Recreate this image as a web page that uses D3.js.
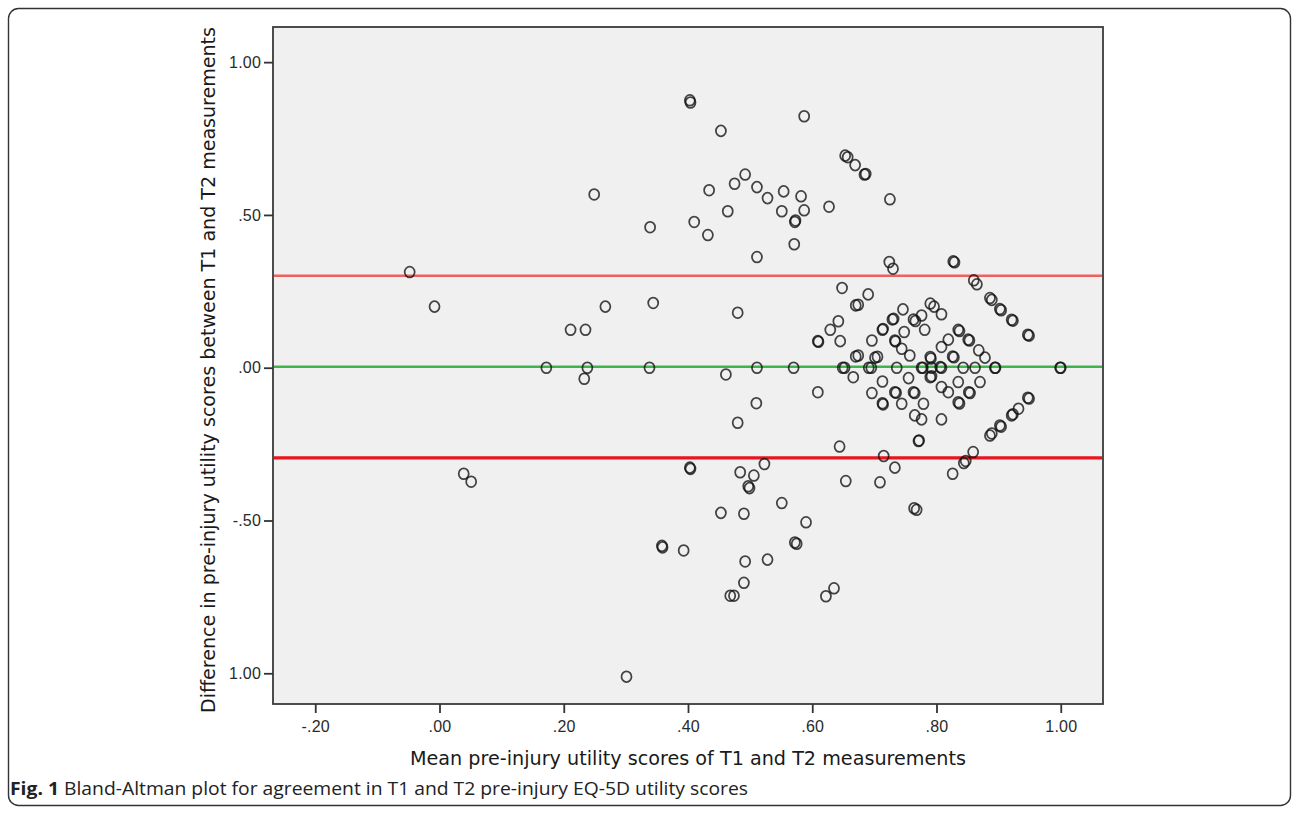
<!DOCTYPE html>
<html>
<head>
<meta charset="utf-8">
<script src="https://cdn.jsdelivr.net/npm/d3@7"></script>
<style>
  body { margin: 0; background: #fff; }
  svg { display: block; }
</style>
</head>
<body>
<svg id="chart" width="1292" height="814"></svg>
<script>
// mean of T1 and T2 (x) and difference T1 - T2 (y)
const meanScores = [
  -0.048, -0.008, 0.039, 0.051, 0.172, 0.211, 0.235, 0.238, 0.233, 0.267, 0.249, 0.301,
  0.339, 0.344, 0.338, 0.358, 0.359, 0.393, 0.403, 0.404, 0.403, 0.404, 0.410, 0.432,
  0.434, 0.453, 0.453, 0.461, 0.464, 0.468, 0.474, 0.475, 0.480, 0.480, 0.484, 0.490,
  0.490, 0.492, 0.492, 0.497, 0.499, 0.506, 0.510, 0.511, 0.511, 0.511, 0.523, 0.528,
  0.528, 0.551, 0.551, 0.554, 0.570, 0.571, 0.572, 0.573, 0.572, 0.575, 0.582, 0.587,
  0.590, 0.587, 0.609, 0.610, 0.609, 0.622, 0.627, 0.629, 0.635, 0.642, 0.644, 0.645,
  0.648, 0.649, 0.652, 0.653, 0.657, 0.654, 0.666, 0.669, 0.670, 0.674, 0.670, 0.674,
  0.684, 0.686, 0.690, 0.691, 0.695, 0.696, 0.696, 0.701, 0.705, 0.709, 0.713, 0.714,
  0.713, 0.713, 0.714, 0.715, 0.725, 0.724, 0.730, 0.729, 0.731, 0.733, 0.734, 0.733,
  0.735, 0.733, 0.736, 0.744, 0.744, 0.746, 0.748, 0.755, 0.757, 0.763, 0.766, 0.763,
  0.765, 0.765, 0.764, 0.768, 0.771, 0.772, 0.776, 0.776, 0.778, 0.776, 0.779, 0.781,
  0.790, 0.796, 0.790, 0.791, 0.792, 0.790, 0.792, 0.808, 0.808, 0.808, 0.806, 0.808,
  0.808, 0.819, 0.819, 0.826, 0.828, 0.826, 0.827, 0.829, 0.835, 0.837, 0.835, 0.835,
  0.837, 0.843, 0.844, 0.847, 0.851, 0.853, 0.852, 0.854, 0.859, 0.860, 0.865, 0.862,
  0.868, 0.870, 0.878, 0.886, 0.889, 0.886, 0.889, 0.894, 0.895, 0.902, 0.904, 0.902,
  0.904, 0.921, 0.923, 0.921, 0.923, 0.932, 0.947, 0.949, 0.947, 0.949, 0.999, 1.000
];
const diffScores = [
  0.313, 0.200, -0.347, -0.373, 0.000, 0.124, 0.124, 0.000, -0.036, 0.200, 0.567, -1.011,
  0.460, 0.212, 0.000, -0.583, -0.588, -0.598, 0.875, 0.868, -0.327, -0.331, 0.477, 0.434,
  0.581, 0.775, -0.475, -0.022, 0.512, -0.746, -0.746, 0.602, 0.180, -0.180, -0.342, -0.478,
  -0.704, 0.632, -0.634, -0.388, -0.394, -0.353, -0.116, 0.591, 0.362, 0.000, -0.315, 0.555,
  -0.628, 0.512, -0.443, 0.577, 0.000, 0.404, 0.477, 0.482, -0.572, -0.576, 0.561, 0.515,
  -0.506, 0.823, 0.087, 0.085, -0.080, -0.748, 0.527, 0.124, -0.722, 0.152, -0.258, 0.087,
  0.261, 0.000, 0.000, 0.694, 0.689, -0.371, -0.031, 0.663, 0.204, 0.206, 0.037, 0.040,
  0.632, 0.634, 0.240, 0.000, 0.000, 0.089, -0.083, 0.033, 0.036, -0.375, 0.124, 0.127,
  -0.045, -0.116, -0.120, -0.289, 0.551, 0.346, 0.324, 0.158, 0.160, 0.089, 0.086, -0.080,
  -0.082, -0.327, 0.000, 0.062, -0.118, 0.191, 0.117, -0.034, 0.040, 0.158, 0.153, -0.080,
  -0.083, -0.156, -0.460, -0.465, -0.240, -0.238, 0.171, 0.000, 0.000, -0.169, -0.118, 0.124,
  0.210, 0.200, 0.035, 0.030, 0.000, -0.031, -0.028, 0.175, 0.068, 0.000, 0.002, -0.063,
  -0.169, 0.092, -0.080, 0.037, 0.034, -0.347, 0.348, 0.345, 0.124, 0.120, -0.047, -0.113,
  -0.117, 0.000, -0.312, -0.305, 0.092, 0.089, -0.080, -0.083, -0.276, 0.286, 0.273, 0.000,
  0.057, -0.047, 0.033, 0.228, 0.222, -0.222, -0.215, 0.000, 0.000, 0.192, 0.188, -0.189,
  -0.193, 0.157, 0.154, -0.156, -0.152, -0.134, 0.108, 0.105, -0.098, -0.101, 0.000, 0.000
];

// mean difference and limits of agreement
const meanDiff = 0.003;
const upperLimit = 0.301;
const lowerLimit = -0.295;

const xTicks = [-0.2, 0, 0.2, 0.4, 0.6, 0.8, 1.0];
const xTickLabels = ["-.20", ".00", ".20", ".40", ".60", ".80", "1.00"];
const yTicks = [1.0, 0.5, 0, -0.5, -1.0];
const yTickLabels = ["1.00", ".50", ".00", "-.50", "1.00"];

const svg = d3.select("#chart");

// outer frame of the figure
svg.append("rect")
  .attr("x", 8.5).attr("y", 8.5)
  .attr("width", 1282).attr("height", 797)
  .attr("rx", 10)
  .attr("fill", "none")
  .attr("stroke", "#333")
  .attr("stroke-width", 1.4);

const plotL = 273, plotR = 1103, plotT = 27, plotB = 704;

const x = d3.scaleLinear().domain([-0.268, 1.068]).range([plotL, plotR]);
const y = d3.scaleLinear().domain([-1.1005, 1.115]).range([plotB, plotT]);

svg.append("rect")
  .attr("x", plotL).attr("y", plotT)
  .attr("width", plotR - plotL).attr("height", plotB - plotT)
  .attr("fill", "#f0f0f0")
  .attr("stroke", "#3a3a3a")
  .attr("stroke-width", 1.8);

// reference lines
const refLines = [
  { v: upperLimit, color: "#f06060", w: 2.4 },
  { v: meanDiff, color: "#3db54a", w: 2.6 },
  { v: lowerLimit, color: "#e8141e", w: 3.2 }
];
svg.selectAll("line.ref")
  .data(refLines)
  .enter().append("line")
  .attr("class", "ref")
  .attr("x1", plotL + 1).attr("x2", plotR - 1)
  .attr("y1", d => y(d.v)).attr("y2", d => y(d.v))
  .attr("stroke", d => d.color)
  .attr("stroke-width", d => d.w);

// points
const points = meanScores.map((m, i) => ({ m, d: diffScores[i] }));
svg.append("g")
  .selectAll("ellipse")
  .data(points)
  .enter().append("ellipse")
  .attr("cx", p => x(p.m))
  .attr("cy", p => y(p.d))
  .attr("rx", 5)
  .attr("ry", 5.4)
  .attr("fill", "none")
  .attr("stroke", "#111")
  .attr("stroke-opacity", 0.78)
  .attr("stroke-width", 1.75);

// axes
const xAxis = svg.append("g")
  .attr("transform", `translate(0,${plotB})`)
  .call(d3.axisBottom(x).tickValues(xTicks).tickFormat((d, i) => xTickLabels[i]).tickSize(9).tickPadding(8));
const yAxis = svg.append("g")
  .attr("transform", `translate(${plotL},0)`)
  .call(d3.axisLeft(y).tickValues(yTicks).tickFormat((d, i) => yTickLabels[i]).tickSize(9).tickPadding(3));

[xAxis, yAxis].forEach(g => {
  g.select(".domain").remove();
  g.selectAll(".tick line").attr("stroke", "#333").attr("stroke-width", 1.8);
  g.selectAll(".tick text")
    .attr("fill", "#2a2a2a")
    .attr("font-family", "Liberation Sans, Arial, sans-serif")
    .attr("font-size", 16)
    .attr("letter-spacing", 0.2);
});

// axis titles
svg.append("text")
  .attr("x", 688).attr("y", 765)
  .attr("text-anchor", "middle")
  .attr("font-family", "DejaVu Sans, Verdana, sans-serif")
  .attr("font-size", 19.5)
  .attr("fill", "#1a1a1a")
  .attr("textLength", 556)
  .attr("lengthAdjust", "spacingAndGlyphs")
  .text("Mean pre-injury utility scores of T1 and T2 measurements");

svg.append("text")
  .attr("transform", "translate(215,370) rotate(-90)")
  .attr("text-anchor", "middle")
  .attr("font-family", "DejaVu Sans, Verdana, sans-serif")
  .attr("font-size", 19.5)
  .attr("fill", "#1a1a1a")
  .attr("textLength", 686)
  .attr("lengthAdjust", "spacingAndGlyphs")
  .text("Difference in pre-injury utility scores between T1 and T2 measurements");

// caption
const cap = svg.append("text")
  .attr("x", 10).attr("y", 795)
  .attr("font-family", "Open Sans, sans-serif")
  .attr("font-size", 18)
  .attr("fill", "#222")
  .attr("textLength", 738)
  .attr("lengthAdjust", "spacingAndGlyphs");
cap.append("tspan").attr("font-weight", "bold").text("Fig. 1");
cap.append("tspan").text(" Bland-Altman plot for agreement in T1 and T2 pre-injury EQ-5D utility scores");
</script>
</body>
</html>
